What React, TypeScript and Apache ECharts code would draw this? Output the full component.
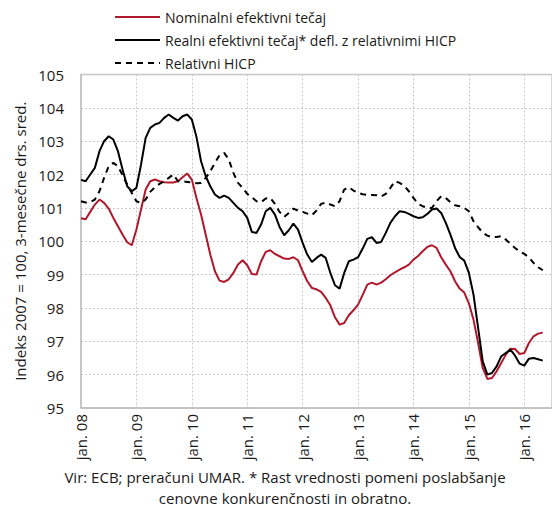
import React, { useEffect, useRef } from "react";
import * as echarts from "echarts";

const yearLabels = ["08", "09", "10", "11", "12", "13", "14", "15", "16"];
const monthNames = ["jan.", "feb.", "mar.", "apr.", "maj", "jun.", "jul.", "avg.", "sep.", "okt.", "nov.", "dec."];

// Monthly categories jan. 08 .. jul. 16 (data ends in maj 16)
const categories: string[] = [];
for (let y = 0; y < yearLabels.length; y++) {
  for (let m = 0; m < 12; m++) {
    if (y === 8 && m > 6) break;
    categories.push(monthNames[m] + " " + yearLabels[y]);
  }
}

const nominal = [
  100.69, 100.66, 100.88, 101.1, 101.25, 101.15, 100.98, 100.7, 100.45, 100.2, 99.97, 99.88,
  100.35, 100.95, 101.55, 101.8, 101.85, 101.8, 101.77, 101.76, 101.76, 101.8, 101.92, 102.03,
  101.85, 101.3, 100.8, 100.2, 99.6, 99.1, 98.82, 98.78, 98.86, 99.05, 99.3, 99.43,
  99.28, 99.02, 99.0, 99.4, 99.68, 99.73, 99.62, 99.55, 99.48, 99.47, 99.52, 99.43,
  99.1, 98.8, 98.6, 98.56, 98.48, 98.3, 98.08, 97.72, 97.5, 97.55, 97.78, 97.93,
  98.1, 98.39, 98.7, 98.76, 98.7, 98.76, 98.86, 98.98, 99.07, 99.15, 99.22, 99.3,
  99.45, 99.56, 99.7, 99.83, 99.88, 99.8, 99.52, 99.3, 99.1, 98.8, 98.58, 98.46,
  98.14, 97.65, 96.95, 96.2, 95.87, 95.9, 96.1, 96.35, 96.6, 96.78, 96.77, 96.62,
  96.65, 96.95, 97.15, 97.23, 97.26,
];

const real = [
  101.84, 101.8, 102.0, 102.2, 102.7, 103.0, 103.15, 103.05, 102.7, 102.15, 101.65, 101.5,
  101.6, 102.3, 103.1, 103.4, 103.5, 103.55, 103.7, 103.8, 103.7, 103.62, 103.75, 103.8,
  103.65, 103.13, 102.4, 101.95, 101.65, 101.4, 101.3, 101.37, 101.3, 101.15, 101.0, 100.9,
  100.7, 100.28, 100.25, 100.5, 100.9, 101.0, 100.8, 100.43, 100.18, 100.33, 100.53, 100.35,
  99.95, 99.6, 99.38, 99.5, 99.6, 99.5, 99.05, 98.68, 98.58, 99.05, 99.4, 99.45,
  99.52, 99.78, 100.07, 100.12, 99.95, 99.98, 100.25, 100.55, 100.75, 100.9, 100.88, 100.82,
  100.75, 100.7, 100.72, 100.82, 100.95, 100.98, 100.85, 100.55, 100.2, 99.8, 99.53, 99.42,
  99.05, 98.4, 97.4, 96.4, 96.0, 96.05, 96.25, 96.55, 96.65, 96.75, 96.57, 96.33,
  96.27, 96.48, 96.5, 96.46, 96.42,
];

const hicp = [
  101.2, 101.16, 101.17, 101.25, 101.5, 101.9, 102.25, 102.35, 102.25, 101.98, 101.7, 101.45,
  101.2, 101.15, 101.25, 101.48, 101.62, 101.72, 101.8, 101.9, 102.0, 101.8, 101.8, 101.78,
  101.76, 101.74, 101.75, 101.9, 102.1, 102.35, 102.58, 102.65, 102.45, 102.05, 101.75, 101.6,
  101.42, 101.32, 101.2, 101.17, 101.28, 101.3, 101.12, 100.88, 100.73, 100.85, 100.98, 100.92,
  100.88, 100.83, 100.78, 100.92, 101.12, 101.16, 101.1, 101.05, 101.2, 101.55, 101.62, 101.52,
  101.45, 101.41, 101.39, 101.39, 101.38, 101.34, 101.42, 101.6, 101.8, 101.75, 101.66, 101.5,
  101.3, 101.12, 101.05, 101.0, 101.0, 101.2, 101.35, 101.3, 101.17, 101.08, 101.05, 101.0,
  100.9, 100.6, 100.42, 100.26, 100.17, 100.12, 100.13, 100.15, 100.05, 99.92, 99.8, 99.69,
  99.62, 99.52, 99.35, 99.22, 99.13,
];

const seriesNames = [
  "Nominalni efektivni tečaj",
  "Realni efektivni tečaj* defl. z relativnimi HICP",
  "Relativni HICP",
];
const seriesColors = ["#b0182c", "#000000", "#000000"];
const seriesDash: (number[] | "solid")[] = ["solid", "solid", [6, 5]];
const yAxisName = "Indeks 2007 = 100, 3-mesečne drs. sred.";
const noteLines = [
  "Vir: ECB; preračuni UMAR. * Rast vrednosti pomeni poslabšanje",
  "cenovne konkurenčnosti in obratno.",
];

const FONT = "'Open Sans', sans-serif";
const INK = "#1a1a1a";

export default function App() {
  const ref = useRef<HTMLDivElement>(null);
  useEffect(() => {
    if (!ref.current) return;
    const chart = echarts.init(ref.current, undefined, { renderer: "svg" });
    const legendRowsY = [17, 40, 63];
    const legendGraphics: any[] = [];
    seriesNames.forEach((name, i) => {
      legendGraphics.push({
        type: "line",
        shape: { x1: 115, y1: legendRowsY[i], x2: 160, y2: legendRowsY[i] },
        style: {
          stroke: seriesColors[i],
          lineWidth: 2,
          lineDash: seriesDash[i] === "solid" ? null : (seriesDash[i] as number[]),
        },
      });
      legendGraphics.push({
        type: "text",
        x: 165,
        y: legendRowsY[i],
        style: {
          text: name,
          fontSize: 14,
          fontFamily: FONT,
          fill: INK,
          verticalAlign: "middle",
          align: "left",
        },
      });
    });
    chart.setOption({
      animation: false,
      backgroundColor: "#ffffff",
      textStyle: { fontFamily: FONT, color: INK },
      grid: {
        left: 81,
        top: 74.5,
        width: 472.3,
        height: 333.5,
        show: true,
        borderColor: "#c8c8c8",
        borderWidth: 1.5,
      },
      xAxis: {
        type: "category",
        data: categories,
        boundaryGap: false,
        axisLine: { show: true, lineStyle: { color: "#c0c0c0", width: 1.5 } },
        axisTick: { show: false },
        axisLabel: {
          interval: 11,
          rotate: 90,
          fontSize: 15,
          fontFamily: FONT,
          color: INK,
          margin: 6,
          formatter: (v: string) => "jan. " + v.split(" ")[1],
        },
        splitLine: {
          show: true,
          interval: 11,
          lineStyle: { color: "#c8c8c8", type: [2, 2], width: 1 },
        },
      },
      yAxis: {
        type: "value",
        min: 95,
        max: 105,
        interval: 1,
        name: yAxisName,
        nameLocation: "middle",
        nameGap: 53,
        nameTextStyle: { fontSize: 15, fontFamily: FONT, color: INK },
        axisLine: { show: true, lineStyle: { color: "#c0c0c0", width: 1.5 } },
        axisTick: { show: false },
        axisLabel: { fontSize: 15, fontFamily: FONT, color: INK, margin: 17 },
        splitLine: { lineStyle: { color: "#c8c8c8", type: [2, 2], width: 1 } },
      },
      series: [
        {
          name: seriesNames[0],
          type: "line",
          data: nominal,
          symbol: "none",
          lineStyle: { color: seriesColors[0], width: 2 },
        },
        {
          name: seriesNames[1],
          type: "line",
          data: real,
          symbol: "none",
          lineStyle: { color: seriesColors[1], width: 2 },
        },
        {
          name: seriesNames[2],
          type: "line",
          data: hicp,
          symbol: "none",
          lineStyle: { color: seriesColors[2], width: 2, type: [6, 5] },
        },
      ],
      graphic: [
        ...legendGraphics,
        {
          type: "text",
          x: 285,
          y: 466,
          style: {
            text: noteLines.join("\n"),
            fontSize: 15,
            lineHeight: 21,
            fontFamily: FONT,
            fill: INK,
            align: "center",
            verticalAlign: "top",
          },
        },
      ],
    });
    return () => chart.dispose();
  }, []);
  return (
    <div
      ref={ref}
      style={{ position: "fixed", left: 0, top: 0, width: 552, height: 507 }}
    />
  );
}
